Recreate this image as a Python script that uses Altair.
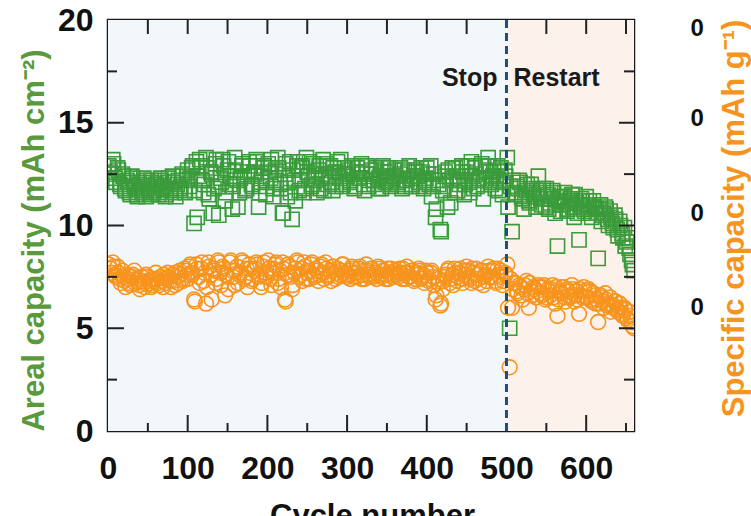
import altair as alt
import pandas as pd

# ---------------- data ----------------
# two interleaved readings of the dense scatter: cycles 3,6,9,... and 1,4,7,...
cycles_a = list(range(3, 661, 3))
cycles_b = list(range(1, 659, 3))

areal_a = [  # Areal capacity, mAh cm-2
    12.6, 13.2, 12.3, 12.8, 12.0, 12.5, 11.8, 12.2, 11.6, 12.4, 11.9, 11.5, 12.1, 11.7, 12.3, 11.4, 11.9, 12.2, 11.6, 12.0,
    11.5, 12.3, 11.8, 11.4, 12.1, 11.7, 12.4, 11.6, 12.0, 11.8, 12.5, 11.7, 12.2, 11.9, 12.8, 10.1, 13.1, 12.4, 12.9, 11.6,
    13.3, 11.5, 12.6, 10.6, 13.0, 11.9, 12.3, 13.2, 11.2, 12.7, 12.0, 10.8, 13.3, 12.2, 11.6, 12.9, 12.4, 11.8, 13.1, 12.0,
    12.6, 13.2, 10.9, 12.1, 12.8, 11.5, 13.0, 12.3, 11.8, 12.7, 13.3, 12.0, 10.6, 12.5, 11.4, 13.1, 10.3, 12.2, 12.9, 11.7,
    12.8, 11.6, 13.3, 12.4, 11.9, 13.0, 12.2, 12.7, 11.8, 13.2, 12.5, 12.0, 12.9, 11.7, 12.6, 13.1, 12.3, 11.9, 12.8, 12.4,
    12.1, 12.9, 11.8, 12.6, 12.3, 13.0, 12.0, 12.5, 11.9, 12.7, 12.2, 12.8, 11.8, 12.4, 12.9, 12.1, 12.6, 11.9, 12.3, 12.7,
    12.0, 12.5, 11.8, 12.7, 12.2, 12.9, 11.9, 12.4, 12.6, 12.1, 12.8, 11.8, 12.3, 12.5, 12.9, 11.9, 10.4, 12.2, 9.8, 11.7,
    12.6, 10.9, 12.2, 12.8, 11.6, 12.4, 12.0, 12.9, 11.5, 12.6, 12.1, 13.1, 11.8, 12.5, 12.2, 12.9, 11.3, 12.7, 13.3, 12.1,
    12.4, 11.8, 12.9, 12.2, 11.5, 12.7, 13.3, 5.0, 9.7, 11.6, 11.9, 12.2, 11.4, 10.8, 11.7, 11.2, 12.0, 11.5, 10.9, 12.4,
    11.3, 11.8, 10.9, 11.5, 11.1, 11.7, 10.6, 9.0, 11.4, 11.0, 11.6, 10.7, 11.2, 11.5, 10.4, 11.1, 9.3, 11.3, 10.8, 11.4,
    11.0, 10.6, 11.2, 10.8, 8.4, 11.0, 10.5, 10.9, 10.3, 10.7, 10.1, 10.5, 9.8, 10.2, 9.6, 9.9, 9.2, 8.9, 8.3, 7.8,
]
areal_b = [
    12.9, 12.5, 13.0, 12.1, 12.7, 11.9, 12.4, 11.7, 12.1, 11.5, 12.3, 11.8, 11.4, 12.0, 11.6, 12.2, 11.8, 11.5, 12.1, 11.7,
    12.0, 11.6, 12.2, 11.9, 11.5, 12.3, 11.8, 12.1, 11.4, 12.2, 11.9, 12.4, 11.6, 12.7, 12.3, 12.9, 11.7, 10.4, 13.2, 12.2,
    12.0, 12.8, 11.3, 12.5, 11.8, 13.2, 10.5, 12.1, 12.9, 11.6, 13.1, 12.4, 11.9, 12.7, 10.9, 12.3, 13.0, 11.7, 12.6, 12.9,
    11.9, 12.5, 13.1, 11.6, 12.4, 12.9, 11.9, 12.6, 13.2, 11.4, 12.2, 12.8, 11.8, 10.6, 13.0, 12.1, 11.6, 12.7, 11.2, 13.1,
    12.2, 12.9, 11.8, 12.6, 13.1, 12.0, 12.5, 11.6, 12.9, 12.3, 11.7, 13.0, 12.4, 12.1, 12.8, 11.9, 12.6, 13.2, 12.0, 12.5,
    12.7, 12.2, 12.5, 11.9, 12.8, 12.3, 12.6, 11.7, 12.9, 12.2, 12.5, 12.0, 12.7, 12.3, 11.8, 12.6, 12.2, 12.8, 12.0, 12.4,
    12.4, 12.1, 12.8, 12.2, 11.9, 12.6, 12.3, 12.0, 12.7, 12.4, 11.9, 12.6, 12.2, 12.8, 12.0, 11.4, 12.5, 10.8, 12.0, 9.7,
    11.9, 12.4, 12.7, 11.1, 12.3, 12.8, 11.7, 12.2, 12.6, 12.0, 12.9, 11.6, 12.4, 12.8, 11.9, 12.3, 13.0, 12.2, 12.6, 12.9,
    12.0, 12.6, 12.3, 11.7, 12.8, 12.1, 12.4, 10.9, 11.9, 12.2, 11.5, 11.8, 12.1, 11.3, 11.6, 12.0, 11.1, 11.8, 11.4, 11.7,
    11.6, 11.0, 11.4, 11.8, 10.8, 11.3, 11.6, 11.0, 11.2, 10.7, 11.4, 11.1, 10.8, 11.3, 10.9, 11.5, 10.6, 11.0, 11.2, 10.7,
    10.9, 11.2, 10.4, 10.9, 10.6, 10.8, 10.2, 10.6, 10.8, 10.0, 10.4, 9.9, 10.3, 9.5, 10.0, 9.4, 9.0, 9.4, 8.6, 8.1,
]

specific_a = [  # Specific capacity, read in the left-axis frame
    7.9, 8.2, 7.6, 8.0, 7.4, 7.8, 7.3, 7.6, 7.2, 7.5, 7.8, 7.3, 7.1, 7.5, 7.2, 7.6, 7.3, 7.0, 7.4, 7.7,
    7.2, 7.5, 7.0, 7.4, 7.7, 7.3, 7.6, 7.1, 7.5, 7.8, 7.4, 7.9, 7.6, 8.0, 7.7, 6.4, 8.1, 7.5, 7.9, 7.3,
    6.2, 8.2, 7.6, 7.9, 7.2, 8.3, 7.7, 8.0, 6.6, 7.5, 8.2, 7.8, 7.1, 8.0, 7.6, 8.3, 7.4, 7.9, 8.1, 7.3,
    7.8, 8.2, 7.5, 7.0, 8.0, 7.7, 8.3, 7.4, 7.9, 8.1, 7.2, 7.8, 8.2, 6.4, 7.6, 8.0, 6.9, 7.7, 8.3, 7.5,
    7.9, 8.2, 7.4, 7.8, 8.1, 7.6, 7.9, 7.3, 8.0, 7.7, 8.2, 7.5, 7.8, 8.0, 7.4, 7.9, 7.6, 8.1, 7.7, 7.5,
    7.8, 8.0, 7.5, 7.7, 7.9, 7.4, 7.8, 8.1, 7.6, 7.9, 7.5, 7.7, 8.0, 7.6, 7.8, 7.4, 7.9, 7.7, 7.5, 7.8,
    7.6, 7.9, 7.4, 7.7, 8.0, 7.5, 7.8, 7.3, 7.7, 7.9, 7.4, 7.6, 7.8, 7.3, 7.7, 7.5, 6.4, 7.2, 6.1, 6.9,
    7.5, 7.8, 7.2, 7.6, 7.9, 7.3, 7.7, 7.4, 7.8, 8.0, 7.5, 7.2, 7.7, 7.9, 7.4, 7.8, 7.1, 7.6, 8.0, 7.5,
    7.8, 7.3, 7.9, 7.5, 7.1, 7.7, 8.1, 3.1, 6.0, 7.2, 6.8, 7.1, 6.6, 6.9, 7.3, 6.0, 6.8, 7.0, 6.5, 7.1,
    6.7, 7.0, 6.4, 6.9, 6.6, 7.1, 6.2, 5.6, 6.8, 7.0, 6.5, 6.9, 6.6, 7.1, 6.3, 6.8, 5.7, 6.6, 7.0, 6.5,
    6.9, 6.4, 6.7, 6.2, 5.3, 6.6, 6.3, 6.7, 6.1, 6.5, 6.0, 6.3, 5.9, 6.2, 5.7, 6.0, 5.5, 5.8, 5.3, 5.0,
]
specific_b = [
    8.1, 7.7, 8.0, 7.5, 7.7, 7.2, 7.5, 7.0, 7.4, 7.1, 7.6, 7.2, 7.4, 6.9, 7.3, 7.0, 7.5, 7.2, 7.1, 7.3,
    7.4, 7.1, 7.3, 7.6, 7.2, 7.5, 7.0, 7.3, 7.7, 7.2, 7.6, 7.3, 7.8, 7.4, 8.1, 7.6, 6.3, 7.9, 7.2, 8.2,
    7.7, 7.0, 8.0, 6.4, 7.8, 7.4, 8.2, 7.1, 7.9, 7.6, 6.9, 8.3, 7.5, 7.8, 7.2, 7.7, 8.2, 7.5, 7.0, 7.9,
    7.4, 7.9, 8.1, 7.6, 7.2, 8.2, 7.5, 7.9, 7.1, 7.7, 8.2, 7.4, 7.0, 7.9, 6.3, 8.1, 7.5, 7.1, 7.9, 8.2,
    7.6, 7.3, 8.0, 7.7, 7.4, 8.2, 7.5, 7.8, 7.6, 8.1, 7.4, 7.9, 7.6, 7.3, 8.0, 7.7, 7.5, 7.8, 8.1, 7.6,
    7.6, 7.4, 7.9, 7.7, 7.5, 8.0, 7.6, 7.4, 7.8, 7.5, 7.9, 7.6, 7.4, 7.9, 7.5, 7.8, 7.6, 7.4, 7.9, 7.6,
    7.8, 7.5, 7.7, 7.9, 7.4, 7.7, 7.5, 7.8, 7.4, 7.6, 7.8, 7.5, 7.2, 7.7, 7.4, 7.8, 7.1, 6.6, 7.4, 6.2,
    7.3, 7.6, 7.9, 7.4, 7.1, 7.7, 7.5, 7.9, 7.2, 7.6, 7.8, 7.4, 7.9, 7.3, 7.6, 7.2, 7.8, 7.5, 7.3, 7.8,
    7.5, 7.9, 7.2, 7.6, 7.8, 7.3, 7.6, 6.0, 7.4, 6.9, 7.2, 6.7, 7.0, 6.4, 7.1, 6.7, 7.2, 6.6, 6.9, 6.8,
    7.0, 6.6, 7.1, 6.5, 6.8, 6.9, 6.5, 7.0, 6.4, 6.7, 7.0, 6.3, 6.8, 6.5, 6.9, 6.6, 6.4, 6.9, 6.5, 6.8,
    6.5, 6.8, 6.3, 6.6, 6.4, 6.2, 6.5, 6.0, 6.4, 6.2, 5.8, 6.1, 6.3, 5.8, 6.0, 5.6, 5.9, 5.4, 5.6, 5.1,
]

phase_names = ["Stop", "Restart"]
phase_start = [0, 500]
phase_end = [500, 660]

x_tick_labels = [0, 100, 200, 300, 400, 500, 600]
y_tick_labels = [0, 5, 10, 15, 20]
x_major_ticks = [100, 200, 300, 400, 600]
x_minor_ticks = [50, 150, 250, 350, 450, 550, 650]
x_top_ticks = [50, 100, 150, 200, 250, 300, 350, 400, 450, 550, 600, 650]
y_major_ticks = [5, 10, 15]
y_minor_ticks = [2.5, 7.5, 12.5, 17.5]
right_label_pos = [6.0, 10.6, 15.2, 19.6]
stop_cycle = [500]

# ---------------- chart ----------------
W, H = 526, 411
FONT = "Liberation Sans"
GREEN = "#3A9B3A"
ORANGE = "#F7941E"

xs = alt.Scale(domain=[0, 660], nice=False, zero=False)
ys = alt.Scale(domain=[0, 20], nice=False)

df = pd.DataFrame({
    "cycle": cycles_a + cycles_b,
    "areal": areal_a + areal_b,
    "specific": specific_a + specific_b,
}).sort_values("cycle")
phases = pd.DataFrame({"phase": phase_names, "start": phase_start, "end": phase_end})

x_axis = alt.Axis(
    orient="bottom",
    values=x_tick_labels, ticks=False, tickSize=0, domain=False, grid=False,
    labelFont=FONT, labelFontSize=32, labelFontWeight="bold", labelColor="#111111",
    labelPadding=22, labelFlush=False, labelOverlap=False,
    title="Cycle number", titleFont=FONT, titleFontSize=31, titleFontWeight="bold",
    titleColor="#111111", titleX=264, titleY=94, titleAlign="center", titleBaseline="alphabetic",
)
left_axis = alt.Axis(
    values=y_tick_labels, ticks=False, tickSize=0, domain=False, grid=False,
    labelFont=FONT, labelFontSize=32, labelFontWeight="bold", labelColor="#111111",
    labelPadding=15, labelOverlap=False,
    title="Areal capacity (mAh cm⁻²)", titleFont=FONT, titleFontSize=31, titleFontWeight="bold",
    titleColor="#5A9A3C", titleAngle=270, titleX=-65, titleY=220,
    titleAlign="center", titleBaseline="alphabetic",
)
right_axis = alt.Axis(
    orient="right", values=right_label_pos, labelExpr="'0'",
    ticks=False, tickSize=0, domain=False, grid=False,
    labelFont=FONT, labelFontSize=24, labelFontWeight="bold", labelColor="#111111",
    labelPadding=56, labelAlign="left", labelOverlap=False,
    title="Specific capacity (mAh g⁻¹)", titleFont=FONT, titleFontSize=31, titleFontWeight="bold",
    titleColor="#F7941D", titleAngle=270, titleX=109, titleY=198,
    titleAlign="center", titleBaseline="alphabetic",
)

X = alt.X("cycle:Q", scale=xs, axis=x_axis)

bg = alt.Chart(phases).mark_rect().encode(
    x=alt.X("start:Q", scale=xs, axis=x_axis),
    x2="end:Q",
    y=alt.value(0),
    y2=alt.value(H),
    color=alt.Color("phase:N", scale=alt.Scale(domain=phase_names, range=["#F2F7FC", "#FCF1EB"]), legend=None),
)

green = alt.Chart(df).mark_point(
    shape="square", filled=False, size=200, strokeWidth=1.6, color=GREEN, opacity=1, clip=True
).encode(
    x=X,
    y=alt.Y("areal:Q", scale=ys, axis=left_axis),
)

orange = alt.Chart(df).mark_point(
    shape="circle", filled=False, size=220, strokeWidth=1.6, color=ORANGE, opacity=1, clip=True
).encode(
    x=X,
    y=alt.Y("specific:Q", scale=ys, axis=right_axis),
)

stop_df = pd.DataFrame({"cycle": stop_cycle})
dashed = alt.Chart(stop_df).mark_rule(color="#1F4E79", strokeWidth=3, strokeDash=[8, 5]).encode(x=X)

txt_df = pd.DataFrame({"cycle": stop_cycle, "y": [16.8]})
stop_txt = alt.Chart(txt_df).mark_text(
    text="Stop", align="right", baseline="alphabetic", dx=-9, font=FONT, fontSize=25,
    fontWeight="bold", color="#1a1a1a"
).encode(x=X, y=alt.Y("y:Q", scale=ys, axis=None))
restart_txt = alt.Chart(txt_df).mark_text(
    text="Restart", align="left", baseline="alphabetic", dx=7, font=FONT, fontSize=25,
    fontWeight="bold", color="#1a1a1a"
).encode(x=X, y=alt.Y("y:Q", scale=ys, axis=None))

TICK = "#222222"
def xticks(vals, y0, y1):
    return alt.Chart(pd.DataFrame({"cycle": vals})).mark_rule(color=TICK, strokeWidth=2).encode(
        x=X, y=alt.value(y0), y2=alt.value(y1)
    )

def yticks(vals, x0, x1):
    return alt.Chart(pd.DataFrame({"v": vals})).mark_rule(color=TICK, strokeWidth=2).encode(
        y=alt.Y("v:Q", scale=ys, axis=None), x=alt.value(x0), x2=alt.value(x1)
    )

ticks = [
    xticks(x_major_ticks, H, H - 16),
    xticks(x_minor_ticks, H, H - 8),
    xticks(x_top_ticks, 0, 14),
    yticks(y_major_ticks, 0, 16),
    yticks(y_minor_ticks, 0, 9),
    yticks(y_major_ticks, W, W - 15),
    yticks(y_minor_ticks, W, W - 10),
]

layer_a = alt.layer(bg, green)
layer_c = alt.layer(dashed, stop_txt, restart_txt, *ticks)

chart = alt.layer(layer_a, orange, layer_c).resolve_scale(y="independent").properties(
    width=W, height=H,
    padding={"left": 108, "top": 20, "right": 117, "bottom": 85},
    autosize=alt.AutoSizeParams(type="none"),
    background="white",
).configure_view(stroke="#1a1a1a", strokeWidth=2.5)

chart.save("out.html", embed_options={"renderer": "svg", "actions": False})
